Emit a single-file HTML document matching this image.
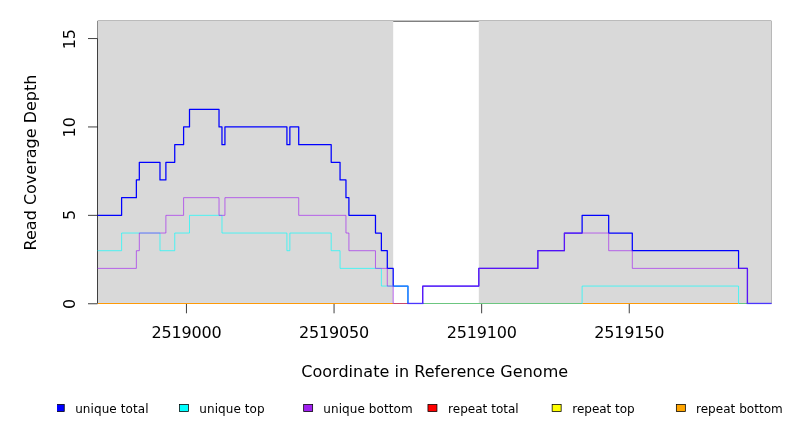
<!DOCTYPE html>
<html lang="en">
<head>
<meta charset="utf-8">
<title>Read Coverage Depth</title>
<style>
html,body{margin:0;padding:0;background:#fff;}
body{width:792px;height:432px;overflow:hidden;}
svg{display:block;}
</style>
</head>
<body>
<svg width="792" height="432" viewBox="0 0 792 432">
<rect x="0" y="0" width="792" height="432" fill="#ffffff"/>
<rect x="98" y="21" width="295.19" height="282.5" fill="#d9d9d9"/>
<rect x="478.8" y="21" width="292.2" height="282.5" fill="#d9d9d9"/>
<rect x="97.6" y="20" width="673.8" height="1" fill="#bbbbbb"/>
<rect x="393.19" y="20" width="85.61" height="1" fill="#c4c4c4"/>
<rect x="393.19" y="21" width="85.61" height="1" fill="#808080"/>
<rect x="771" y="21" width="1" height="283" fill="#b8b8b8"/>
<rect x="97" y="21" width="1" height="17.5" fill="#8a8a8a"/>
<g stroke="#000" stroke-width="0.75" fill="none">
<path d="M97.5 38.55V303.5"/>
<path d="M88 303.75H97.5"/>
<path d="M88 215.35H97.5"/>
<path d="M88 126.95H97.5"/>
<path d="M88 38.55H97.5"/>
<path d="M186.45 303.5V313.3"/>
<path d="M334.05 303.5V313.3"/>
<path d="M481.65 303.5V313.3"/>
<path d="M629.25 303.5V313.3"/>
</g>
<rect x="98" y="302" width="295.19" height="1" fill="#d5dbe4"/>
<rect x="582.12" y="302" width="156.45" height="1" fill="#d5dbe4"/>
<rect x="98" y="303" width="295.19" height="1" fill="#ff9a06"/>
<rect x="393.19" y="303" width="14.76" height="1" fill="#c8486a"/>
<rect x="422.71" y="303" width="159.41" height="1" fill="#6cc680"/>
<rect x="582.12" y="303" width="156.45" height="1" fill="#ff9a06"/>
<rect x="738.57" y="303" width="8.86" height="1" fill="#6cc680"/>
<path d="M97.5 215.35H121.61V197.67H136.37V179.99H139.32V162.31H159.98V179.99H165.89V162.31H174.74V144.63H183.6V126.95H189.5V109.27H219.02V126.95H221.97V144.63H224.93V126.95H286.92V144.63H289.87V126.95H298.73V144.63H331.2V162.31H340.05V179.99H345.96V197.67H348.91V215.35H375.48V233.03H381.38V250.71H387.29V268.39H393.19V286.07H407.95V303.75M422.71 303.75V286.07H478.8V268.39H537.84V250.71H564.41V233.03H582.12V215.35H608.69V233.03H632.3V250.71H738.57V268.39H747.43V303.75M771.5 303.75" stroke="#0000ff" stroke-width="1.25" fill="none" stroke-linejoin="round"/>
<path d="M97.5 250.71H121.61V233.03H159.98V250.71H174.74V233.03H189.5V215.35H221.97V233.03H286.92V250.71H289.87V233.03H331.2V250.71H340.05V268.39H381.38V286.07H407.95V303.75M582.12 303.75V286.07H738.57V303.75M771.5 303.75" stroke="#00ffff" stroke-width="0.65" fill="none" stroke-linejoin="round"/>
<path d="M97.5 268.39H136.37V250.71H139.32V233.03H165.89V215.35H183.6V197.67H219.02V215.35H224.93V197.67H298.73V215.35H345.96V233.03H348.91V250.71H375.48V268.39H387.29V286.07H393.19V303.75M422.71 303.75V286.07H478.8V268.39H537.84V250.71H564.41V233.03H608.69V250.71H632.3V268.39H747.43V303.75M771.5 303.75" stroke="#a020f0" stroke-width="0.65" fill="none" stroke-linejoin="round"/>
<rect x="407.25" y="302.8" width="16.16" height="1.3" fill="#4a36ff"/>
<rect x="746.73" y="302.8" width="24.87" height="1.3" fill="#4a36ff"/>
<g font-family="'DejaVu Sans', 'Liberation Sans', sans-serif" fill="#000">
<g font-size="16px" text-anchor="middle">
<text x="186.45" y="338" letter-spacing="-0.18">2519000</text>
<text x="334.05" y="338" letter-spacing="-0.18">2519050</text>
<text x="481.65" y="338" letter-spacing="-0.18">2519100</text>
<text x="629.25" y="338" letter-spacing="-0.18">2519150</text>
<text transform="translate(75.1 303.95) rotate(-90)">0</text>
<text transform="translate(75.1 214.97) rotate(-90)">5</text>
<text transform="translate(75.1 127.23) rotate(-90)">10</text>
<text transform="translate(75.1 39.2) rotate(-90)">15</text>
<text x="434.7" y="377" letter-spacing="0.04">Coordinate in Reference Genome</text>
<text transform="translate(35.9 162.5) rotate(-90)">Read Coverage Depth</text>
</g>
<clipPath id="lc"><rect x="57" y="395" width="735" height="30"/></clipPath>
<g clip-path="url(#lc)">
<rect x="55.25" y="404.4" width="9.0" height="7.2" fill="#0000ff" stroke="#000" stroke-width="0.75"/>
<rect x="179.45" y="404.4" width="9.0" height="7.2" fill="#00ffff" stroke="#000" stroke-width="0.75"/>
<rect x="303.65" y="404.4" width="9.0" height="7.2" fill="#a020f0" stroke="#000" stroke-width="0.75"/>
<rect x="427.95" y="404.4" width="9.0" height="7.2" fill="#ff0000" stroke="#000" stroke-width="0.75"/>
<rect x="552.15" y="404.4" width="9.0" height="7.2" fill="#ffff00" stroke="#000" stroke-width="0.75"/>
<rect x="676.35" y="404.4" width="9.0" height="7.2" fill="#ffa500" stroke="#000" stroke-width="0.75"/>
</g>
<g font-size="12px">
<text x="75.2" y="413" letter-spacing="0.08">unique total</text>
<text x="199.3" y="413" letter-spacing="0.07">unique top</text>
<text x="323.3" y="413" letter-spacing="0.08">unique bottom</text>
<text x="448.1" y="413" letter-spacing="0.02">repeat total</text>
<text x="572.3" y="413" letter-spacing="-0.02">repeat top</text>
<text x="696.0" y="413" letter-spacing="0.035">repeat bottom</text>
</g>
</g>
</svg>
</body>
</html>
